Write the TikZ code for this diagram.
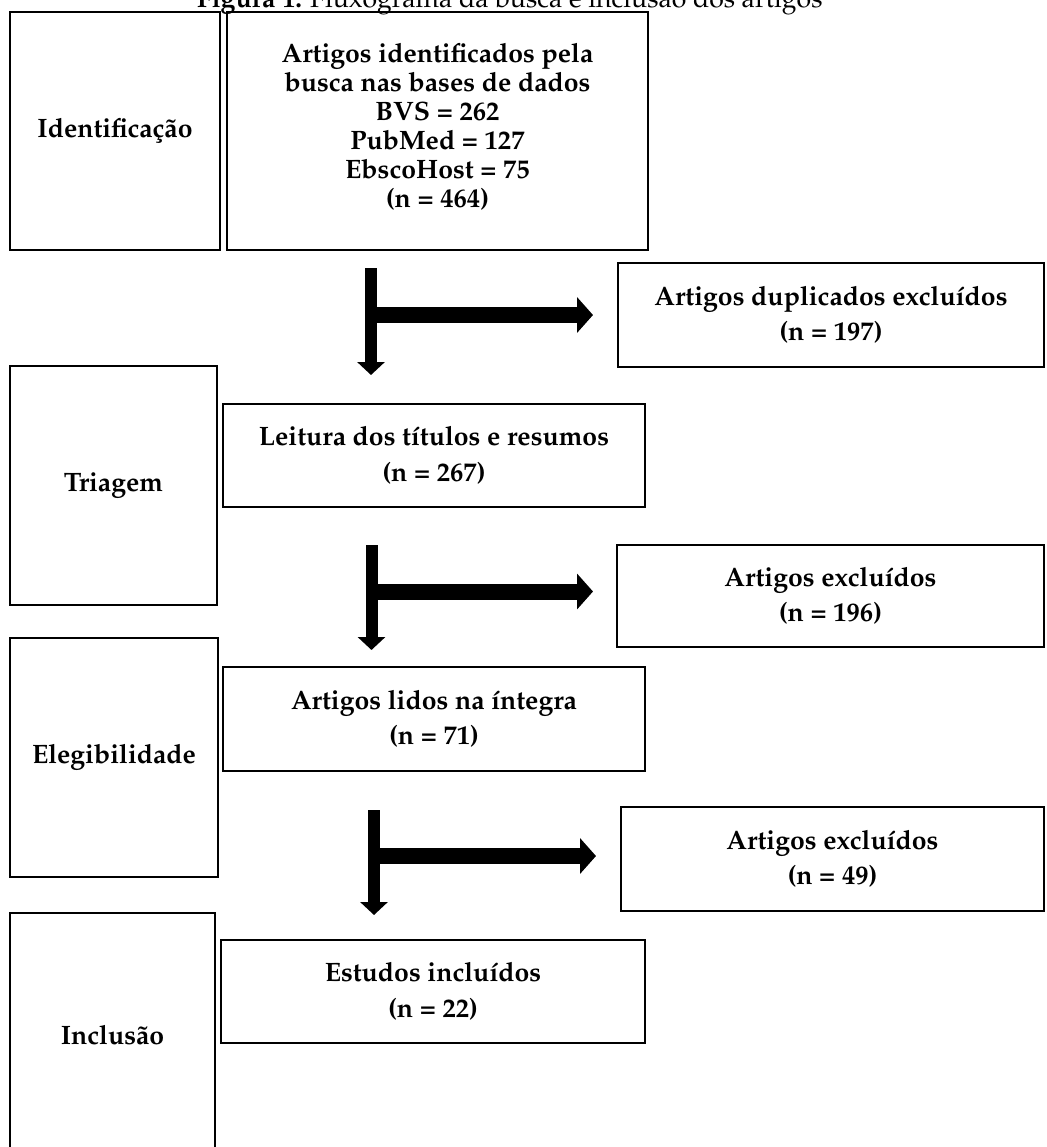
\documentclass[tikz,border=0pt]{standalone}
\usepackage[T1]{fontenc}
\usepackage{mathpazo}
\usepackage{tikz}
\usetikzlibrary{arrows.meta,positioning}

\tikzset{
  caixa/.style={draw,line width=1.1pt,inner sep=0pt,align=center,font=\fontsize{13.3}{17.75}\selectfont\bfseries},
  desce/.style={line width=6pt,-{Triangle[width=13.5pt,length=6.5pt]}},
  exclui/.style={line width=8pt,-{Triangle[width=17.5pt,length=8pt]}}
}

\begin{document}
\begin{tikzpicture}[x=0.5pt,y=-0.5pt]
\useasboundingbox (0,0) rectangle (1046,1147);
\node[anchor=base west,font=\fontsize{13.3}{14}\selectfont](titulo)at(190,7){\textbf{Figura 1.} Fluxograma da busca e inclus\~ao dos artigos};
% etapas
\node[caixa,minimum width=105pt,minimum height=119pt](ident)at(115,131){Identifica\c{c}\~ao};
\node[caixa,minimum width=103.5pt,minimum height=119.5pt](triagem)at(113.5,485.5){Triagem};
\node[caixa,minimum width=104pt,minimum height=119.5pt](eleg)at(114,757.5){Elegibilidade};
\node[caixa,minimum width=102.5pt,minimum height=122pt](incl)at(112.5,1035){Inclus\~ao};
% caixas do fluxo
\node[caixa,minimum width=210.5pt,minimum height=119pt](busca)at(437.5,131){};
\node[align=center,inner sep=0pt,font=\fontsize{13.3}{14.5}\selectfont\bfseries](buscatxt)at(437.5,127){Artigos identificados pela\\busca nas bases de dados\\BVS = 262\\PubMed = 127\\EbscoHost = 75\\(n = 464)};
\node[caixa,minimum width=213pt,minimum height=52pt](dup)at(831,315){Artigos duplicados exclu\'{\i}dos\\(n = 197)};
\node[caixa,minimum width=211pt,minimum height=51.5pt](leitura)at(434,455.5){Leitura dos t\'{\i}tulos e resumos\\(n = 267)};
\node[caixa,minimum width=213.5pt,minimum height=51pt](exc1)at(830.5,596){Artigos exclu\'{\i}dos\\(n = 196)};
\node[caixa,minimum width=211pt,minimum height=52pt](lidos)at(434,719){Artigos lidos na \'{\i}ntegra\\(n = 71)};
\node[caixa,minimum width=211.5pt,minimum height=52pt](exc2)at(832.5,859){Artigos exclu\'{\i}dos\\(n = 49)};
\node[caixa,minimum width=212pt,minimum height=51.5pt](estudos)at(433,991.5){Estudos inclu\'{\i}dos\\(n = 22)};
% setas
\coordinate(s1)at(371,268);\coordinate(p1)at(371,375);\coordinate(r1)at(593,315);
\coordinate(s2)at(371.5,545);\coordinate(p2)at(371.5,650);\coordinate(r2)at(593,591.5);
\coordinate(s3)at(374,810);\coordinate(p3)at(374,915);\coordinate(r3)at(596,856);
\draw[desce](s1)--(p1);
\draw[exclui](s1|-r1)--(r1);
\draw[desce](s2)--(p2);
\draw[exclui](s2|-r2)--(r2);
\draw[desce](s3)--(p3);
\draw[exclui](s3|-r3)--(r3);
\end{tikzpicture}
\end{document}
